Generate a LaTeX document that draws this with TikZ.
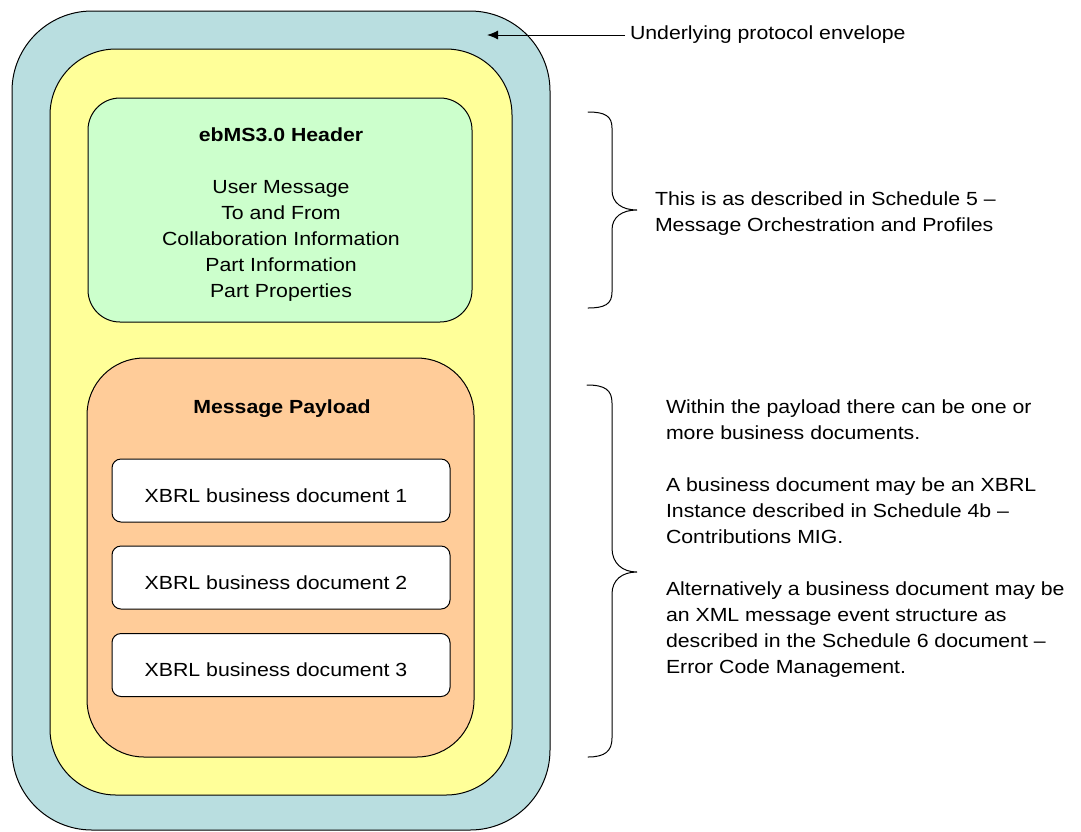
\documentclass[tikz,border=0pt]{standalone}
\usepackage{fontspec}
\setmainfont{Liberation Sans}[FakeStretch=1.12]
\usetikzlibrary{arrows.meta}
\definecolor{envblue}{RGB}{185,222,224}
\definecolor{ebyellow}{RGB}{255,255,153}
\definecolor{hdrgreen}{RGB}{204,255,204}
\definecolor{payorange}{RGB}{255,204,153}
\newcommand\dfont{\fontsize{19}{26}\selectfont}
\begin{document}
\begin{tikzpicture}[x=1pt,y=-1pt,
  layer/.style={draw=black, line width=1pt, inner sep=0pt, outer sep=0pt},
  docbox/.style={layer, fill=white, rounded corners=9pt, minimum width=338pt, minimum height=63pt},
  txt/.style={inner sep=0pt, outer sep=0pt, font=\dfont, text=black},
  bracestyle/.style={draw=black, line width=1pt, line cap=round},
  arrowline/.style={draw=black, line width=1pt, -{Latex[length=11pt,width=9pt]}},
]
\useasboundingbox (0,0) rectangle (1081,831);
% nested layers
\node[layer, fill=envblue, rounded corners=80pt, minimum width=538pt, minimum height=819pt] (env) at (281,420.5) {};
\node[layer, fill=ebyellow, rounded corners=66pt, minimum width=462pt, minimum height=746pt] (ebms) at (281,422) {};
\node[layer, fill=hdrgreen, rounded corners=32pt, minimum width=384pt, minimum height=224pt] (hdr) at (280,210) {};
\node[layer, fill=payorange, rounded corners=57pt, minimum width=387pt, minimum height=399pt] (pay) at (280.5,557.5) {};
\node[docbox] (doc1) at (281,490.5) {};
\node[docbox] (doc2) at (281,577.5) {};
\node[docbox] (doc3) at (281,665) {};
% texts in boxes (base anchor = baseline of the last line)
\node[txt, anchor=base, font=\dfont\bfseries] (hdrtitle) at (281,141) {ebMS3.0 Header};
\node[txt, anchor=base, align=center] (hdrbody) at (281,297) {User Message\\To and From\\Collaboration Information\\Part Information\\Part Properties};
\node[txt, anchor=base, font=\dfont\bfseries] (paytitle) at (282,413) {Message Payload};
\node[txt, anchor=base] (doc1text) at (276,502) {XBRL business document 1};
\node[txt, anchor=base] (doc2text) at (276,589) {XBRL business document 2};
\node[txt, anchor=base] (doc3text) at (276,676) {XBRL business document 3};
% envelope label and arrow
\node[txt, anchor=base west] (envlabel) at (630,39) {Underlying protocol envelope};
\coordinate (envtip) at (487,35);
\draw[arrowline] ([xshift=-5pt,yshift=4pt]envlabel.base west) -- (envtip);
% brace for header
\draw[bracestyle] (588,112) .. controls (605,112) and (612,116) .. (612,128)
  -- (612,190) .. controls (612,203) and (622,210) .. (637,210)
  .. controls (622,210) and (612,217) .. (612,230)
  -- (612,292) .. controls (612,304) and (605,308) .. (588,308);
\node[txt, anchor=base west, align=left] (hdrnote) at (655,231) {This is as described in Schedule 5 –\\Message Orchestration and Profiles};
% brace for payload
\draw[bracestyle] (587,385) .. controls (605,385) and (612,390) .. (612,403)
  -- (612,548) .. controls (612,563) and (622,572) .. (637,572)
  .. controls (622,572) and (612,580) .. (612,594)
  -- (612,738) .. controls (612,751) and (605,757) .. (588,757);
\node[txt, anchor=base west, align=left] (paynote) at (666,673) {Within the payload there can be one or\\more business documents.\\[26pt]A business document may be an XBRL\\Instance described in Schedule 4b –\\Contributions MIG.\\[26pt]Alternatively a business document may be\\an XML message event structure as\\described in the Schedule 6 document –\\Error Code Management.};
\end{tikzpicture}
\end{document}
